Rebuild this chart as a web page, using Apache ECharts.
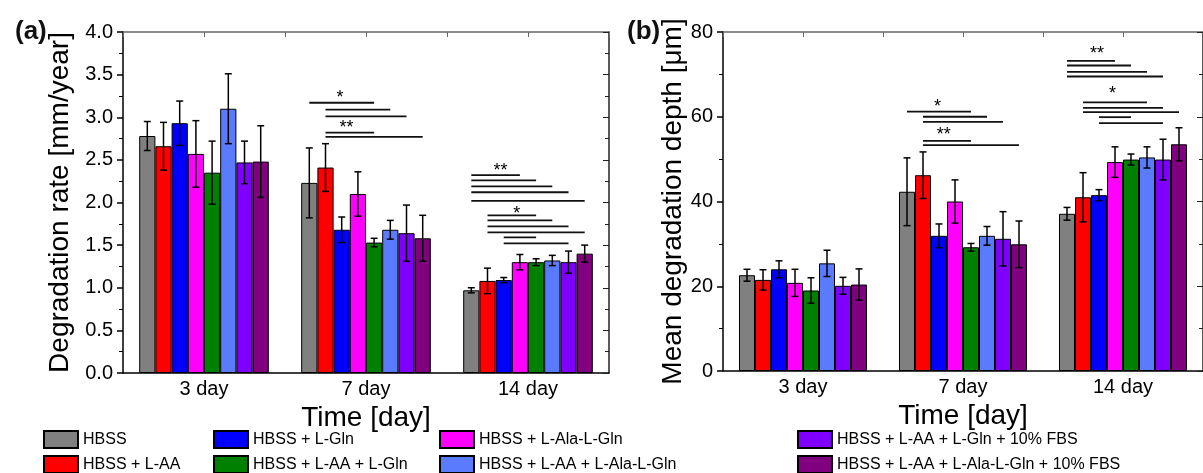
<!DOCTYPE html>
<html>
<head>
<meta charset="utf-8">
<script src="https://cdn.jsdelivr.net/npm/echarts@6.0.0/dist/echarts.min.js"></script>
<style>
html, body { margin: 0; padding: 0; background: #fff; }
#main { width: 1203px; height: 473px; }
</style>
</head>
<body>
<div id="main"></div>
<script>
const categories = ['3 day', '7 day', '14 day'];
// groups in bar order (left to right inside each day)
const groupNames = [
    'HBSS',
    'HBSS + L-AA',
    'HBSS + L-Gln',
    'HBSS + L-Ala-L-Gln',
    'HBSS + L-AA + L-Gln',
    'HBSS + L-AA + L-Ala-L-Gln',
    'HBSS + L-AA + L-Gln + 10% FBS',
    'HBSS + L-AA + L-Ala-L-Gln + 10% FBS'
];
const groupColors = ['#808080', '#ff0000', '#0000ff', '#ff00ff', '#008000', '#5b7bff', '#8000ff', '#800080'];
// legend layout: column by column, two rows each
const legendOrder = [0, 1, 2, 4, 3, 5, 6, 7];

// degradation rate [mm/year], one row per group (3, 7, 14 day)
const rateMean = [
    [2.78, 2.23, 0.97],
    [2.66, 2.41, 1.08],
    [2.93, 1.68, 1.09],
    [2.57, 2.10, 1.30],
    [2.35, 1.53, 1.30],
    [3.10, 1.68, 1.32],
    [2.47, 1.64, 1.30],
    [2.48, 1.58, 1.40]
];
const rateErr = [
    [0.17, 0.41, 0.03],
    [0.28, 0.28, 0.15],
    [0.26, 0.15, 0.03],
    [0.39, 0.26, 0.09],
    [0.37, 0.05, 0.04],
    [0.41, 0.11, 0.06],
    [0.25, 0.33, 0.13],
    [0.42, 0.27, 0.10]
];

// mean degradation depth [um]
const depthMean = [
    [22.6, 42.3, 37.1],
    [21.5, 46.2, 41.0],
    [24.0, 31.9, 41.5],
    [20.8, 40.0, 49.3],
    [19.0, 29.2, 49.9],
    [25.4, 31.9, 50.4],
    [20.1, 31.2, 49.9],
    [20.4, 29.9, 53.5]
];
const depthErr = [
    [1.4, 8.0, 1.5],
    [2.4, 5.5, 5.8],
    [2.0, 2.8, 1.3],
    [3.2, 5.1, 3.6],
    [3.0, 0.9, 1.3],
    [3.1, 2.2, 2.5],
    [2.0, 6.4, 4.8],
    [3.7, 5.5, 3.9]
];

// significance lines: [day, from bar, to bar, value]
const rateBrackets = [
    [1, 0, 4, 3.17], [1, 1, 5, 3.09], [1, 1, 6, 3.01], [1, 1, 4, 2.82], [1, 1, 7, 2.77],
    [2, 0, 3, 2.32], [2, 0, 4, 2.26], [2, 0, 5, 2.19], [2, 0, 6, 2.12], [2, 0, 7, 2.02],
    [2, 1, 4, 1.85], [2, 1, 5, 1.79], [2, 1, 6, 1.72], [2, 1, 7, 1.65], [2, 2, 4, 1.59], [2, 2, 6, 1.52]
];
const rateStars = [[1, 1.9, 3.22, '*'], [1, 2.3, 2.87, '**'], [2, 1.8, 2.37, '**'], [2, 2.8, 1.87, '*']];

const depthBrackets = [
    [1, 0, 4, 61.2], [1, 1, 5, 60.0], [1, 1, 6, 58.8], [1, 1, 4, 54.3], [1, 1, 7, 53.3],
    [2, 0, 3, 73.2], [2, 0, 4, 72.1], [2, 0, 5, 70.6], [2, 0, 6, 69.5],
    [2, 1, 5, 63.4], [2, 1, 6, 62.1], [2, 1, 7, 61.1], [2, 2, 4, 59.9], [2, 2, 6, 58.5]
];
const depthStars = [[1, 1.9, 62.4, '*'], [1, 2.3, 55.8, '**'], [2, 1.87, 74.8, '**'], [2, 2.84, 65.4, '*']];

const font = '"Liberation Sans", Arial, sans-serif';
const NBARS = 8;
const BAND = 0.8;

function barX(api, cat, k) {
    let c = api.coord([cat, 0])[0];
    let w = api.size([1, 0])[0] * BAND / NBARS;
    return c + (k - (NBARS - 1) / 2) * w;
}

function renderErr(params, api) {
    let cat = api.value(0), k = api.value(1), m = api.value(2), e = api.value(3);
    let x = barX(api, cat, k);
    let yt = api.coord([cat, m + e])[1];
    let yb = api.coord([cat, m - e])[1];
    let st = { stroke: '#000', lineWidth: 1.5 };
    return {
        type: 'group',
        children: [
            { type: 'line', shape: { x1: x, y1: yt, x2: x, y2: yb }, style: st },
            { type: 'line', shape: { x1: x - 3.5, y1: yt, x2: x + 3.5, y2: yt }, style: st },
            { type: 'line', shape: { x1: x - 3.5, y1: yb, x2: x + 3.5, y2: yb }, style: st }
        ]
    };
}

function renderBracket(params, api) {
    let cat = api.value(0);
    let y = api.coord([cat, api.value(3)])[1];
    return {
        type: 'line',
        shape: { x1: barX(api, cat, api.value(1)), y1: y, x2: barX(api, cat, api.value(2)), y2: y },
        style: { stroke: '#111', lineWidth: 1.8 }
    };
}

function renderStar(params, api) {
    let cat = api.value(0);
    let p = api.coord([cat, api.value(2)]);
    let src = params.seriesName === 'starsA' ? rateStars : depthStars;
    return {
        type: 'text',
        style: {
            text: src[params.dataIndex][3],
            x: barX(api, cat, api.value(1)), y: p[1],
            align: 'center', verticalAlign: 'middle',
            fontSize: 18, fontFamily: font, fill: '#000'
        }
    };
}

function errData(mean, err) {
    let out = [];
    for (let k = 0; k < NBARS; k = k + 1) {
        for (let c = 0; c < categories.length; c = c + 1) {
            out.push([c, k, mean[k][c], err[k][c]]);
        }
    }
    return out;
}

function makeGridSeries(g, mean, err, brackets, stars) {
    let out = [];
    for (let k = 0; k < NBARS; k = k + 1) {
        out.push({
            name: groupNames[k],
            type: 'bar',
            xAxisIndex: g * 2,
            yAxisIndex: g * 2,
            data: mean[k],
            barGap: '0%',
            barCategoryGap: '20%',
            itemStyle: { color: groupColors[k], borderColor: '#000', borderWidth: 1 }
        });
    }
    out.push({
        type: 'custom', xAxisIndex: g * 2, yAxisIndex: g * 2, z: 5,
        renderItem: renderErr, encode: { x: 0, y: 2 }, data: errData(mean, err)
    });
    out.push({
        type: 'custom', xAxisIndex: g * 2, yAxisIndex: g * 2, z: 5,
        renderItem: renderBracket, encode: { x: 0, y: 3 }, data: brackets
    });
    out.push({
        name: g === 0 ? 'starsA' : 'starsB',
        type: 'custom', xAxisIndex: g * 2, yAxisIndex: g * 2, z: 5,
        renderItem: renderStar, encode: { x: 0, y: 2 },
        data: stars.map(s => [s[0], s[1], s[2]])
    });
    return out;
}

function bottomAxis(g) {
    return {
        type: 'category', gridIndex: g, data: categories, position: 'bottom',
        name: 'Time [day]', nameLocation: 'middle', nameGap: 24,
        nameTextStyle: { fontSize: 28, fontFamily: font, color: '#000' },
        axisLine: { onZero: false, lineStyle: { color: '#000', width: 1.5 } },
        axisTick: { alignWithLabel: true, length: 6, lineStyle: { color: '#000', width: 1.5 } },
        axisLabel: { fontSize: 20, fontFamily: font, color: '#000', margin: 6 }
    };
}

function topAxis(g) {
    return {
        type: 'value', gridIndex: g, position: 'top', min: -0.5, max: 2.5, interval: 0.5,
        axisLine: { show: true, onZero: false, lineStyle: { color: '#666', width: 1.5 } },
        axisTick: { show: true, inside: true, length: 5, lineStyle: { color: '#666' } },
        axisLabel: { show: false }, splitLine: { show: false }
    };
}

function leftAxis(g, max, interval, digits, name, gap) {
    return {
        type: 'value', gridIndex: g, position: 'left', min: 0, max: max, interval: interval,
        name: name, nameLocation: 'middle', nameGap: gap,
        nameTextStyle: { fontSize: 28, fontFamily: font, color: '#000' },
        axisLine: { show: true, onZero: false, lineStyle: { color: '#000', width: 1.5 } },
        axisTick: { show: true, length: 6, lineStyle: { color: '#000', width: 1.5 } },
        minorTick: { show: true, splitNumber: 2, length: 4, lineStyle: { color: '#000' } },
        axisLabel: {
            fontSize: 20, fontFamily: font, color: '#000', margin: 10,
            formatter: v => v.toFixed(digits)
        },
        splitLine: { show: false }
    };
}

function rightAxis(g, max, interval) {
    return {
        type: 'value', gridIndex: g, position: 'right', min: 0, max: max, interval: interval,
        axisLine: { show: true, onZero: false, lineStyle: { color: '#222', width: 1.5 } },
        axisTick: { show: true, inside: true, length: 6, lineStyle: { color: '#222' } },
        minorTick: { show: true, splitNumber: 2, length: 4, lineStyle: { color: '#222' } },
        axisLabel: { show: false }, splitLine: { show: false }
    };
}

const legendLeft = [43, 213, 439, 797];
const legendTop = [430, 455];

function drawChart() {
    let myChart = echarts.init(document.getElementById('main'));

    let legends = legendOrder.map((g, i) => ({
        orient: 'horizontal', padding: 0,
        left: legendLeft[Math.floor(i / 2)], top: legendTop[i % 2],
        itemWidth: 34, itemHeight: 17, itemGap: 5,
        icon: 'rect',
        data: [groupNames[g]],
        textStyle: { fontSize: 16, fontFamily: font, color: '#000' }
    }));

    let option = {
        animation: false,
        backgroundColor: '#fff',
        textStyle: { fontFamily: font },
        title: [
            { text: '(a)', left: 10, top: 14, textStyle: { fontSize: 26, fontWeight: 'bold', fontFamily: font, color: '#111' } },
            { text: '(b)', left: 622, top: 14, textStyle: { fontSize: 26, fontWeight: 'bold', fontFamily: font, color: '#111' } }
        ],
        legend: legends,
        grid: [
            { left: 123, top: 32, width: 486, height: 341 },
            { left: 723, top: 32, width: 486, height: 339 }
        ],
        xAxis: [bottomAxis(0), topAxis(0), bottomAxis(1), topAxis(1)],
        yAxis: [
            leftAxis(0, 4, 0.5, 1, 'Degradation rate [mm/year]', 49),
            rightAxis(0, 4, 0.5),
            leftAxis(1, 80, 20, 0, 'Mean degradation depth [\u03bcm]', 36),
            rightAxis(1, 80, 20)
        ],
        series: makeGridSeries(0, rateMean, rateErr, rateBrackets, rateStars)
            .concat(makeGridSeries(1, depthMean, depthErr, depthBrackets, depthStars))
    };

    myChart.setOption(option);
}

drawChart();
</script>
</body>
</html>
